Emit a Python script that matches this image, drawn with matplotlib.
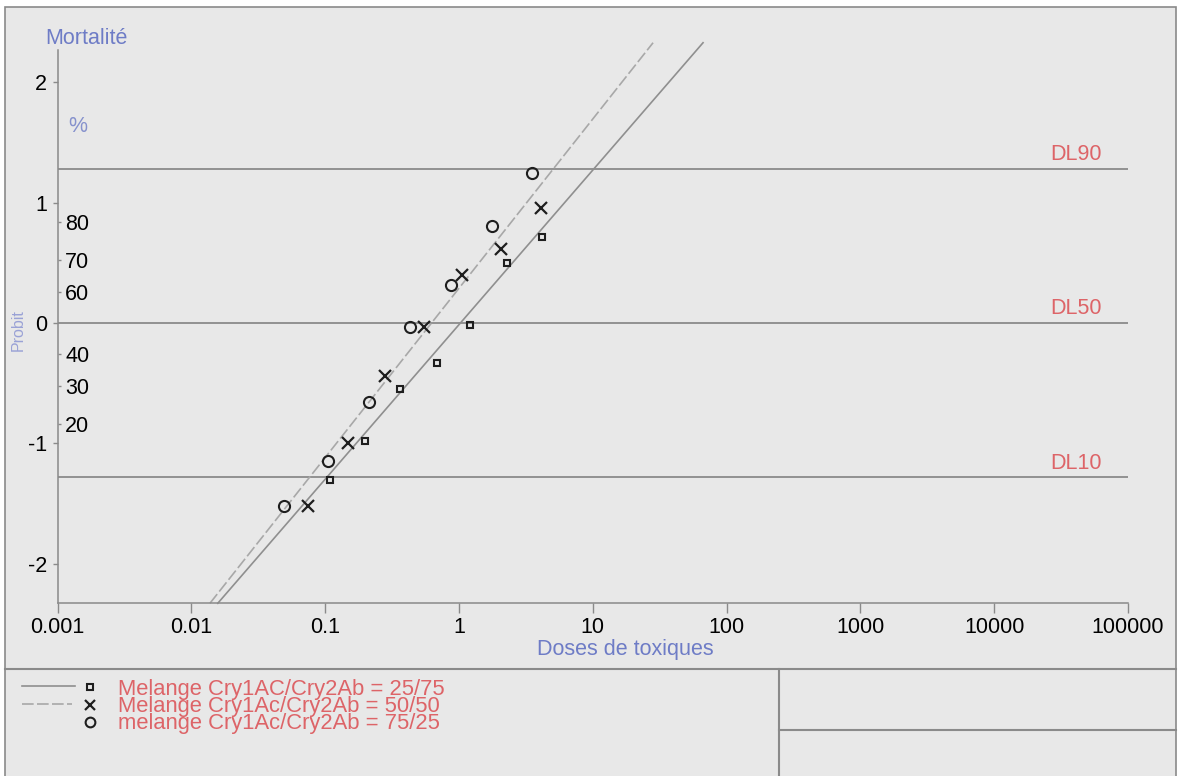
import matplotlib
matplotlib.use('Agg')
import matplotlib.pyplot as plt
import numpy as np
from statistics import NormalDist
from matplotlib.patches import Rectangle
from matplotlib.lines import Line2D
from matplotlib.transforms import blended_transform_factory
from matplotlib.ticker import NullLocator

# --- data ---
dose_25 = [0.109, 0.20, 0.365, 0.685, 1.21, 2.28, 4.16]
probit_25 = [-1.30, -0.98, -0.55, -0.335, -0.017, 0.50, 0.71]
dose_50 = [0.0743, 0.1475, 0.28, 0.55, 1.05, 2.06, 4.09]
probit_50 = [-1.52, -0.995, -0.44, -0.036, 0.40, 0.613, 0.953]
dose_75 = [0.0497, 0.105, 0.214, 0.43, 0.87, 1.78, 3.54]
probit_75 = [-1.52, -1.145, -0.654, -0.036, 0.316, 0.806, 1.244]

# fitted regression lines: log10(DL50), slope  (drawn from 1% to 99%)
fit_25 = (0.011, 1.283)
fit_50 = (-0.205, 1.405)

x_ticks = [1e-3, 1e-2, 1e-1, 1, 10, 100, 1000, 10000, 100000]
x_labels = ['0.001', '0.01', '0.1', '1', '10', '100', '1000', '10000', '100000']
y_ticks = [-2, -1, 0, 1, 2]
pct_labels = [20, 30, 40, 60, 70, 80]
dl_levels = [10, 50, 90]

series_names = ['Melange Cry1AC/Cry2Ab = 25/75',
                'Melange Cry1Ac/Cry2Ab = 50/50',
                'melange Cry1Ac/Cry2Ab = 75/25']

W, H = 1181, 776
BLUE = '#6e7cc6'
RED = '#dd6468'
GRAY = '#8a8a8a'
INK = '#1e1e1e'
FS = 15.5

plt.rcParams['font.family'] = ['Liberation Sans', 'DejaVu Sans']
plt.rcParams['axes.unicode_minus'] = False

nd = NormalDist()

fig = plt.figure(figsize=(W / 100, H / 100), dpi=100)
fig.patch.set_facecolor('white')

# grey frame of the whole chart
fig.add_artist(Rectangle((5 / W, -0.01), (1176 - 5) / W, 1 - 7 / H + 0.01,
                         transform=fig.transFigure, facecolor='#e8e8e8',
                         edgecolor=GRAY, lw=1.2, zorder=-10))

ax = fig.add_axes([57.5 / W, (H - 603) / H, (1128 - 57.5) / W, (603 - 50) / H])
ax.set_facecolor('none')
ax.set_xscale('log')
ax.set_xlim(1e-3, 1e5)
ax.set_ylim(-2.324, 2.266)

for s in ['top', 'right']:
    ax.spines[s].set_visible(False)
for s in ['left', 'bottom']:
    ax.spines[s].set_color(GRAY)
    ax.spines[s].set_linewidth(1.1)

ax.set_xticks(x_ticks, labels=x_labels)
ax.xaxis.set_minor_locator(NullLocator())
ax.set_yticks(y_ticks, labels=[str(v) for v in y_ticks])
ax.tick_params(axis='x', length=7, width=1, color=GRAY, labelsize=FS, pad=3)
ax.tick_params(axis='y', length=3.6, width=1, color=GRAY, labelsize=FS, pad=4)

# percentage scale drawn inside the left axis
sec = ax.secondary_yaxis('left')
sec.set_yticks([nd.inv_cdf(p / 100) for p in pct_labels],
               labels=[str(p) for p in pct_labels])
sec.spines['left'].set_visible(False)
sec.tick_params(direction='in', length=2.5, width=1, color=GRAY,
                labelsize=FS, pad=-5.5)
for lab in sec.get_yticklabels():
    lab.set_horizontalalignment('left')

# DL reference lines
blend = blended_transform_factory(ax.transAxes, ax.transData)
for lvl in dl_levels:
    yv = nd.inv_cdf(lvl / 100)
    ax.axhline(yv, color=GRAY, lw=1.3, zorder=1)
    ax.annotate('DL%d' % lvl, xy=(0.9757, yv), xycoords=blend,
                xytext=(0, 2.7), textcoords='offset points',
                ha='right', va='bottom', color=RED, fontsize=FS)

# fitted lines
p_end = nd.inv_cdf(0.99)
pp = np.array([-p_end, p_end])
line_25 = dict(color='#8f8f8f', lw=1.2, ls='-')
line_50 = dict(color='#a8a8a8', lw=1.2, ls=(0, (7, 2)))
for (ld, slope), style in [(fit_25, line_25), (fit_50, line_50)]:
    ax.plot(10 ** (ld + pp / slope), pp, clip_on=False, zorder=2, **style)

# observed points
mk_25 = dict(marker='s', ms=5, mfc='none', mew=1.5)
mk_50 = dict(marker='x', ms=8, mew=1.6)
mk_75 = dict(marker='o', ms=8, mfc='none', mew=1.5)
ax.plot(dose_25, probit_25, ls='none', mec=INK, zorder=3, **mk_25)
ax.plot(dose_50, probit_50, ls='none', mec=INK, zorder=3, **mk_50)
ax.plot(dose_75, probit_75, ls='none', mec=INK, zorder=3, **mk_75)

# axis titles
fig.text(45 / W, 1 - 38 / H, 'Mortalité', color=BLUE, fontsize=FS, ha='left', va='center')
fig.text(68 / W, 1 - 127 / H, '%', color=BLUE, fontsize=FS, ha='left', va='center', alpha=0.8)
fig.text(18 / W, 1 - 330 / H, 'Probit', color='#9aa2d6', fontsize=11.5,
         rotation=90, ha='center', va='center')
fig.text(625 / W, 1 - 649 / H, 'Doses de toxiques', color=BLUE, fontsize=FS,
         ha='center', va='center')

# lower panel boxes
def seg(x0, y0, x1, y1, **kw):
    fig.add_artist(Line2D([x0 / W, x1 / W], [1 - y0 / H, 1 - y1 / H],
                          transform=fig.transFigure, **kw))

seg(5, 669, 1176, 669, color=GRAY, lw=1.5)
seg(779, 669, 779, 776, color=GRAY, lw=1.5)
seg(779, 730, 1176, 730, color=GRAY, lw=1.5)

# legend
legend_rows = [687, 704.5, 722]
legend_marks = [dict(mk_25, ms=5), dict(mk_50, ms=7), dict(mk_75, ms=7)]
for i, name in enumerate(series_names):
    yr = legend_rows[i]
    fig.add_artist(Line2D([90 / W], [1 - yr / H], transform=fig.transFigure,
                          ls='none', mec=INK, **legend_marks[i]))
    fig.text(118 / W, 1 - (yr + 7.5) / H, name, color=RED, fontsize=15.8,
             ha='left', va='baseline')
seg(22, legend_rows[0] - 1, 75, legend_rows[0] - 1, **line_25)
seg(22, legend_rows[1] - 1, 72, legend_rows[1] - 1, **line_50)

fig.savefig('out.png', dpi=100)
